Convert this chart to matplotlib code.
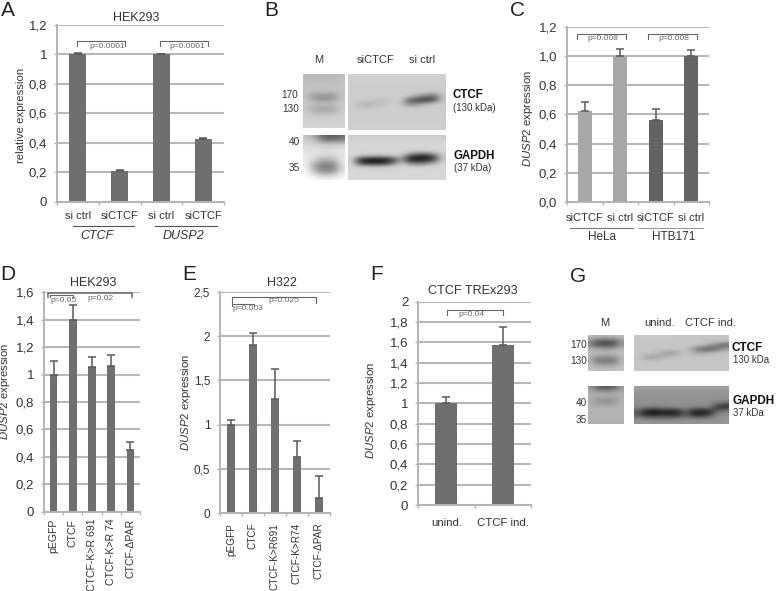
import matplotlib
matplotlib.use('Agg')
import matplotlib.pyplot as plt
import numpy as np

plt.rcParams['font.family'] = ['Liberation Sans', 'DejaVu Sans']
plt.rcParams['text.color'] = '#333333'
plt.rcParams['mathtext.fontset'] = 'custom'
plt.rcParams['mathtext.it'] = 'Liberation Sans:italic'
plt.rcParams['mathtext.rm'] = 'Liberation Sans'

W = 778
H = 591
BAR = '#6f6f6f'
LIGHT = '#a8a8a8'
DARK = '#646464'
GRID = '#b8b8b8'
AXIS = '#b4b4b4'
ERR = '#5a5a5a'
TXT = '#333333'

# panel A
a_labels = ['si ctrl', 'siCTCF', 'si ctrl', 'siCTCF']
a_vals = [1.0, 0.21, 1.0, 0.425]
a_err = [0.01, 0.005, 0.003, 0.005]
a_ticks = ['0', '0,2', '0,4', '0,6', '0,8', '1', '1,2']

# panel C
c_labels = ['siCTCF', 'si ctrl', 'siCTCF', 'si ctrl']
c_vals = [0.62, 1.0, 0.56, 1.0]
c_err = [0.065, 0.05, 0.08, 0.04]
c_ticks = ['0,0', '0,2', '0,4', '0,6', '0,8', '1,0', '1,2']

# panel D
d_labels = ['pEGFP', 'CTCF', 'CTCF-K>R 691', 'CTCF-K>R 74', 'CTCF-\u0394PAR']
d_vals = [1.0, 1.4, 1.055, 1.06, 0.45]
d_err = [0.10, 0.105, 0.075, 0.08, 0.06]
d_ticks = ['0', '0,2', '0,4', '0,6', '0,8', '1', '1,2', '1,4', '1,6']

# panel E
e_labels = ['pEGFP', 'CTCF', 'CTCF-K>R691', 'CTCF-K>R74', 'CTCF-\u0394PAR']
e_vals = [1.0, 1.9, 1.29, 0.63, 0.175]
e_err = [0.05, 0.14, 0.34, 0.19, 0.24]
e_ticks = ['0', '0,5', '1', '1,5', '2', '2,5']

# panel F
f_labels = ['unind.', 'CTCF ind.']
f_vals = [1.0, 1.57]
f_err = [0.06, 0.18]
f_ticks = ['0', '0,2', '0,4', '0,6', '0,8', '1', '1,2', '1,4', '1,6', '1,8', '2']

# blots, grey levels read by eye on a coarse grid
b_m_top = [[188, 186, 186, 186, 186, 190],
           [190, 188, 188, 188, 188, 192],
           [192, 192, 192, 192, 192, 194],
           [194, 194, 194, 194, 194, 196],
           [194, 190, 190, 190, 190, 196],
           [192, 160, 150, 150, 158, 196],
           [194, 155, 145, 145, 155, 198],
           [198, 192, 190, 190, 192, 200],
           [198, 178, 172, 172, 178, 202],
           [200, 172, 168, 168, 174, 204],
           [204, 198, 196, 196, 198, 206],
           [206, 206, 206, 206, 206, 208],
           [208, 208, 208, 208, 208, 210],
           [210, 210, 210, 210, 210, 212]]
b_main_top = [[208, 208, 208, 208, 208, 208, 208, 208, 208, 208, 208, 208],
              [206, 206, 206, 206, 206, 206, 206, 206, 206, 206, 206, 206],
              [205, 205, 205, 205, 205, 205, 205, 204, 204, 204, 204, 205],
              [205, 205, 205, 205, 205, 205, 205, 204, 204, 204, 204, 205],
              [205, 205, 205, 205, 205, 205, 205, 204, 204, 204, 195, 205],
              [205, 205, 205, 205, 205, 205, 205, 200, 170, 130, 100, 195],
              [205, 205, 205, 195, 188, 198, 205, 95, 60, 50, 70, 195],
              [205, 180, 172, 185, 200, 205, 205, 130, 150, 185, 205, 205],
              [205, 198, 200, 205, 205, 205, 205, 205, 205, 205, 205, 205],
              [205, 205, 205, 205, 205, 205, 205, 205, 205, 205, 205, 205],
              [205, 205, 205, 205, 205, 205, 205, 205, 205, 205, 205, 205],
              [205, 205, 205, 205, 205, 205, 205, 205, 205, 205, 205, 205],
              [206, 206, 206, 206, 206, 206, 206, 206, 206, 206, 206, 206],
              [208, 208, 208, 208, 208, 208, 208, 208, 208, 208, 208, 208]]
b_m_bot = [[195, 175, 120, 90, 90, 110],
           [205, 195, 155, 130, 130, 145],
           [215, 212, 205, 200, 200, 205],
           [222, 220, 218, 215, 218, 222],
           [226, 224, 222, 220, 222, 226],
           [230, 226, 215, 210, 216, 230],
           [234, 215, 185, 175, 190, 232],
           [238, 190, 150, 140, 155, 225],
           [242, 175, 130, 122, 140, 218],
           [246, 190, 145, 135, 155, 225],
           [250, 225, 195, 185, 200, 238],
           [253, 248, 240, 236, 240, 246]]
b_main_bot = [[205, 205, 205, 205, 205, 205, 205, 205, 205, 205, 205, 205],
              [212, 212, 212, 212, 212, 212, 212, 212, 212, 212, 212, 212],
              [214, 214, 214, 214, 214, 214, 214, 214, 214, 214, 214, 214],
              [214, 214, 214, 214, 214, 214, 214, 214, 214, 214, 214, 214],
              [214, 214, 214, 214, 214, 214, 214, 205, 190, 190, 205, 214],
              [214, 205, 190, 185, 190, 205, 205, 95, 50, 45, 90, 200],
              [214, 40, 20, 15, 20, 60, 160, 30, 20, 25, 60, 200],
              [214, 70, 40, 35, 45, 110, 205, 130, 110, 125, 175, 214],
              [214, 205, 200, 200, 205, 214, 214, 214, 214, 214, 214, 214],
              [214, 214, 214, 214, 214, 214, 214, 214, 214, 214, 214, 214],
              [215, 215, 215, 215, 215, 215, 215, 215, 215, 215, 215, 215],
              [216, 216, 216, 216, 216, 216, 216, 216, 216, 216, 216, 216]]
g_m_top = [[188, 182, 182, 182, 182, 188],
           [140, 95, 85, 85, 100, 150],
           [130, 85, 80, 80, 95, 145],
           [180, 170, 165, 165, 170, 185],
           [190, 188, 185, 185, 188, 192],
           [180, 150, 145, 145, 150, 185],
           [170, 120, 115, 115, 125, 180],
           [185, 165, 160, 160, 168, 190],
           [195, 190, 190, 190, 192, 196]]
g_main_top = [[200, 200, 200, 200, 200, 198, 198, 198, 198, 198, 198, 198],
              [198, 198, 198, 198, 198, 198, 198, 198, 198, 198, 198, 198],
              [198, 198, 198, 198, 198, 198, 198, 198, 198, 170, 120, 95],
              [198, 198, 198, 198, 198, 198, 198, 150, 95, 85, 115, 160],
              [198, 198, 198, 170, 150, 165, 198, 175, 170, 185, 195, 198],
              [198, 165, 150, 170, 190, 198, 198, 198, 198, 198, 198, 198],
              [198, 195, 195, 198, 198, 198, 198, 198, 198, 198, 198, 198],
              [198, 198, 198, 198, 198, 198, 198, 198, 198, 198, 198, 198],
              [198, 198, 198, 198, 198, 198, 198, 198, 198, 198, 198, 198]]
g_m_bot = [[150, 105, 90, 90, 105, 155],
           [170, 160, 150, 150, 160, 172],
           [175, 175, 175, 175, 175, 175],
           [172, 155, 148, 148, 155, 174],
           [174, 155, 148, 148, 158, 176],
           [178, 176, 176, 176, 176, 178],
           [180, 180, 180, 180, 180, 180],
           [180, 180, 180, 180, 180, 180],
           [178, 178, 178, 178, 178, 178],
           [176, 176, 176, 176, 176, 176]]
g_main_bot = [[160, 160, 160, 160, 160, 160, 160, 160, 160, 160, 160, 160],
              [150, 150, 150, 150, 150, 150, 150, 150, 150, 150, 150, 150],
              [146, 146, 146, 146, 146, 146, 146, 146, 146, 146, 146, 146],
              [145, 145, 145, 145, 145, 145, 145, 145, 145, 145, 145, 145],
              [145, 145, 145, 145, 145, 145, 145, 145, 145, 145, 120, 100],
              [142, 135, 125, 135, 140, 142, 142, 135, 130, 140, 50, 35],
              [95, 45, 25, 40, 35, 45, 110, 50, 35, 45, 95, 125],
              [85, 35, 25, 40, 35, 35, 95, 35, 30, 55, 140, 145],
              [135, 125, 120, 120, 120, 120, 135, 125, 125, 135, 145, 148],
              [150, 150, 150, 150, 150, 150, 150, 150, 150, 150, 150, 150]]


def make_ax(x0, x1, ytop, ybot):
    return fig.add_axes([x0 / W, 1 - ybot / H, (x1 - x0) / W, (ybot - ytop) / H])


def bar_panel(ax, vals, errs, labels, ticks, ymax, step, width, colors=BAR,
              lab_size=8, tick_size=9.5, rot=0, pad=7):
    x = np.arange(len(vals))
    ax.set_axisbelow(True)
    ax.bar(x, vals, width, color=colors, zorder=2)
    ax.errorbar(x, vals, yerr=[np.zeros(len(errs)), errs], fmt='none', ecolor=ERR,
                elinewidth=1.1, capsize=2.6, capthick=1.1, zorder=3)
    ax.set_xlim(-0.5, len(vals) - 0.5)
    ax.set_ylim(0, ymax)
    ax.set_yticks(np.arange(len(ticks)) * step)
    ax.set_yticklabels(ticks, fontsize=tick_size, color=TXT)
    ax.set_xticks(x)
    ax.set_xticklabels(labels, fontsize=lab_size, color=TXT, rotation=rot)
    ax.set_xticks(np.arange(len(vals) + 1) - 0.5, minor=True)
    ax.tick_params(axis='x', which='major', length=0, pad=pad)
    ax.tick_params(axis='x', which='minor', length=2, color=AXIS, width=1)
    ax.tick_params(axis='y', length=2, color=AXIS, width=1, pad=5)
    ax.grid(axis='y', color=GRID, linewidth=1.5)
    for s in ['top', 'right']:
        ax.spines[s].set_visible(False)
    for s in ['left', 'bottom']:
        ax.spines[s].set_color(AXIS)
        ax.spines[s].set_linewidth(1.4)


def side_label(ax, s, xpix, x0, x1, yfrac):
    # xpix is the right edge of the rotated text
    ax.set_ylabel(s, fontsize=8.2, color=TXT)
    ax.yaxis.set_label_coords((xpix - x0) / (x1 - x0), yfrac)


def blot(arr, x0, x1, y0, y1):
    page.imshow(np.array(arr, dtype=float), cmap='gray', vmin=0, vmax=255,
                extent=(x0, x1, y1, y0), interpolation='bicubic', aspect='auto', zorder=1)


def bracket(x0, x1, y, leg=5, color='#666666', lw=0.8):
    page.plot([x0, x0, x1, x1], [y + leg, y, y, y + leg], color=color, lw=lw, zorder=5)


def small(x, y, s):
    page.text(x, y, s, fontsize=6, color='#666666', ha='center', va='center', zorder=6)


def put(x, y, s, size=9, **kw):
    page.text(x, y, s, fontsize=size, ha=kw.pop('ha', 'center'), va=kw.pop('va', 'center'), zorder=6, **kw)


fig = plt.figure(figsize=(W / 100, H / 100), dpi=100, facecolor='white')
dusp = '$\\mathit{DUSP2}$ expression'

ax_a = make_ax(57, 224, 25, 201.7)
bar_panel(ax_a, a_vals, a_err, a_labels, a_ticks, 1.2, 0.2, 0.41)
side_label(ax_a, 'relative expression', 26, 57, 224, 0.49)

ax_c = make_ax(567, 709, 26.7, 202)
bar_panel(ax_c, c_vals, c_err, c_labels, c_ticks, 1.2, 0.2, 0.4,
          colors=[LIGHT, LIGHT, DARK, DARK], pad=8)
side_label(ax_c, dusp, 535, 567, 709, 0.48)

ax_d = make_ax(44, 140, 292.3, 511.7)
bar_panel(ax_d, d_vals, d_err, d_labels, d_ticks, 1.6, 0.2, 0.39, lab_size=7.6, rot=90, pad=5)
side_label(ax_d, dusp, 12.5, 44, 140, 0.55)

ax_e = make_ax(220, 330, 292, 513)
bar_panel(ax_e, e_vals, e_err, e_labels, e_ticks, 2.5, 0.5, 0.4, lab_size=7.2,
          tick_size=8.5, rot=90, pad=7)
side_label(ax_e, dusp, 193, 220, 330, 0.5)

ax_f = make_ax(418, 531, 301.7, 505)
bar_panel(ax_f, f_vals, f_err, f_labels, f_ticks, 2, 0.2, 0.39, lab_size=8.2, pad=9)
side_label(ax_f, dusp, 378, 418, 531, 0.468)

# overlay in pixel coordinates for blots and annotations
page = fig.add_axes([0, 0, 1, 1], zorder=10)
page.patch.set_alpha(0)
page.axis('off')

blot(b_m_top, 303, 345, 74, 128)
blot(b_main_top, 348, 446, 74, 130)
blot(b_m_bot, 303, 345, 135, 180)
blot(b_main_bot, 348, 446, 135, 180)
blot(g_m_top, 588, 624, 335, 371)
blot(g_main_top, 634, 729, 335, 371)
blot(g_m_bot, 588, 624, 386, 424)
blot(g_main_bot, 634, 729, 386, 424)
page.set_xlim(0, W)
page.set_ylim(H, 0)

# panel letters
for s, x, y in [('A', 8, 11), ('B', 271, 10), ('C', 518, 11),
                ('D', 8, 275), ('E', 189, 275), ('F', 377, 275), ('G', 578, 276)]:
    put(x, y, s, size=15, color='#222222')

# titles
put(136, 18, 'HEK293', size=9)
put(93, 283, 'HEK293', size=9)
put(282, 283, 'H322', size=9)
put(473, 291, 'CTCF TREx293', size=9.1)

# brackets, p values
bracket(77, 125, 41)
small(107, 46, 'p=0.0001')
bracket(160, 208, 41)
small(187, 46, 'p=0.0001')
bracket(577, 626, 34)
small(603, 39, 'p=0.008')
bracket(648, 697, 34)
small(674, 39, 'p=0.008')
bracket(48, 132, 293, leg=4, lw=1.1)
bracket(50, 73, 295, leg=2)
small(64, 301, 'p=0.05')
small(100, 298, 'p=0.02')
bracket(232, 316, 297, leg=6)
bracket(232, 254, 304, leg=2)
small(248, 309, 'p=0.003')
small(284, 301, 'p=0.025')
bracket(447, 503, 310)
small(471, 315, 'p=0.04')

# group lines under A and C
page.plot([73, 134], [226, 226], color='#555555', lw=0.8)
page.plot([155, 217], [226, 226], color='#555555', lw=0.8)
put(97, 236, 'CTCF', size=9, style='italic')
put(183, 236, 'DUSP2', size=9, style='italic')
page.plot([570, 633], [228, 228], color='#777777', lw=0.8)
page.plot([639, 703], [228, 228], color='#999999', lw=0.8)
put(602, 237, 'HeLa', size=8.5)
put(674, 237, 'HTB171', size=8.5)

# blot B text
put(319, 60, 'M', size=8)
put(376, 60, 'siCTCF', size=8)
put(422, 60, 'si ctrl', size=8)
put(290, 95, '170', size=7.2)
put(291, 109, '130', size=7.2)
put(294, 142, '40', size=7.2)
put(294, 168, '35', size=7.2)
put(453, 95, 'CTCF', size=8.3, ha='left', fontweight='bold', color='#111111')
put(453, 108, '(130 kDa)', size=7, ha='left')
put(454, 156, 'GAPDH', size=8.3, ha='left', fontweight='bold', color='#111111')
put(454, 168, '(37 kDa)', size=7, ha='left')

# blot G text
put(605, 323, 'M', size=8)
put(660, 323, 'unind.', size=8)
put(710, 323, 'CTCF ind.', size=8)
put(579, 345, '170', size=7.2)
put(579, 361, '130', size=7.2)
put(581, 403, '40', size=7.2)
put(581, 420, '35', size=7.2)
put(732, 348, 'CTCF', size=8.5, ha='left', fontweight='bold', color='#111111')
put(733, 360, '130 kDa', size=7, ha='left')
put(733, 401, 'GAPDH', size=8.5, ha='left', fontweight='bold', color='#111111')
put(733, 413, '37 kDa', size=7, ha='left')

fig.savefig('out.png', dpi=100)
